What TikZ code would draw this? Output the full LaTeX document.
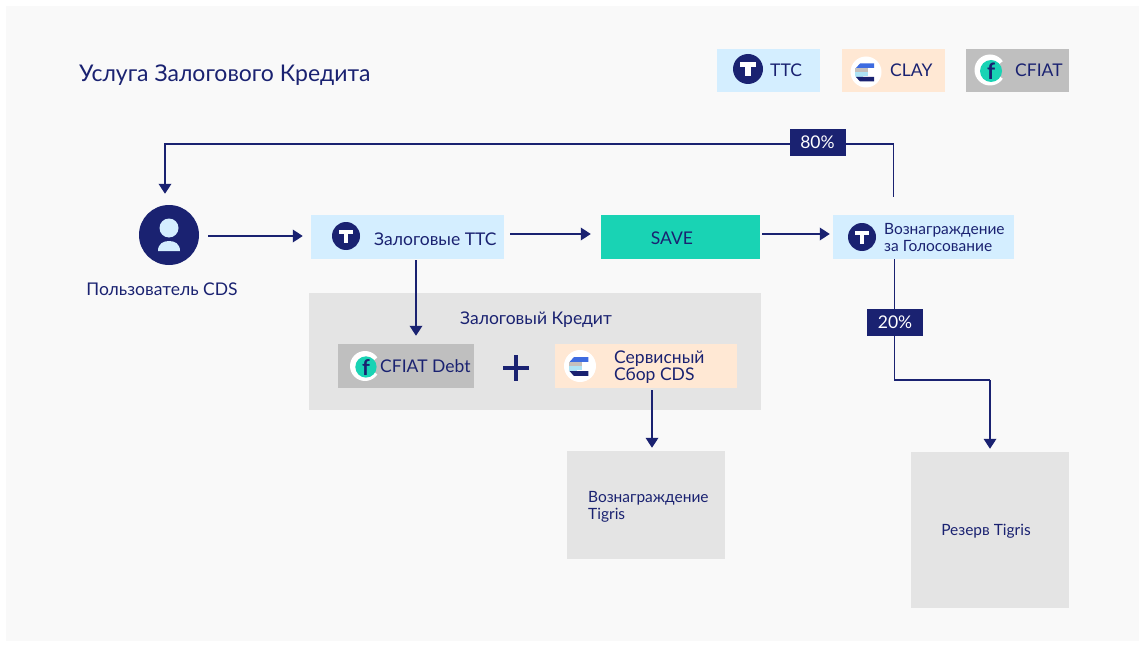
\documentclass[tikz,border=0pt]{standalone}
\usepackage{fontspec}
\setmainfont{Lato}
\usetikzlibrary{arrows.meta,calc}
\definecolor{navy}{HTML}{1A2271}
\definecolor{skyb}{HTML}{D4EEFF}
\definecolor{peach}{HTML}{FFE8D4}
\definecolor{greyb}{HTML}{BFBFBF}
\definecolor{tealb}{HTML}{19D3B4}
\definecolor{panel}{HTML}{E4E4E4}
\definecolor{page}{HTML}{F9F9F9}
\definecolor{stripeb}{HTML}{3D6BE0}
\definecolor{stripeg}{HTML}{C4BFBC}
\definecolor{stripel}{HTML}{AEE3F5}
\tikzset{
  x=1pt,y=-1pt,
  lbl/.style={text=navy,inner sep=0pt,font=\fontsize{17.5}{17}\selectfont,align=left},
  small/.style={text=navy,inner sep=0pt,font=\fontsize{15.5}{17}\selectfont,align=left},
  pct/.style={fill=navy,text=white,inner sep=0pt,minimum width=56pt,minimum height=27pt,font=\fontsize{17.5}{19}\selectfont},
  conn/.style={draw=navy,line width=1.9pt},
  arr/.style={conn,-{Triangle[length=10pt,width=12.5pt]}},
}
% centre x, centre y, radius
\newcommand\ttcicon[3]{%
  \begin{scope}[shift={(#1,#2)},scale=#3/15]
    \fill[navy] (0,0) circle (15);
    \fill[white] (-8,-6.5) rectangle (8,-2);
    \fill[white] (-2.6,-3) rectangle (2.6,7.5);
  \end{scope}}
\newcommand\clayicon[3]{%
  \begin{scope}[shift={(#1,#2)},scale=#3/15]
    \fill[white] (0,0) circle (15.5);
    \fill[stripeb] (-10,-4) -- (-6,-8.5) -- (8,-8.5) -- (8,-4) -- cycle;
    \fill[stripeg] (-11,-4) rectangle (2,0);
    \fill[stripel] (-11,0) rectangle (2,4);
    \fill[stripel] (-11,4) -- (-3,4) -- (-3,5) -- (-10,5) -- cycle;
    \fill[navy] (-10,5) -- (8,5) -- (8,9.5) -- (-6,9.5) -- cycle;
  \end{scope}}
\newcommand\cfiaticon[4]{%
  \begin{scope}[shift={(#1,#2)},scale=#3/15]
    \fill[white] (0,0) circle (15.5);
    \fill[#4] (6,-3) -- (18,-13) -- (18,13) -- (6,3) -- cycle;
    \fill[tealb] (1,1) circle (11);
  \end{scope}
  \pgfmathsetmacro\fsz{#3*1.5}%
  \node[text=navy,inner sep=0pt,font=\bfseries\fontsize{\fsz}{\fsz}\selectfont] at ($(#1,#2)+(#3*0.07,#3*0.07)$) {f};}
\begin{document}
\begin{tikzpicture}
\useasboundingbox (0,0) rectangle (1145,647);
\fill[white] (0,0) rectangle (1145,647);
\fill[page] (6,6) rectangle (1139,641);

\node[anchor=west,text=navy,inner sep=0pt,font=\fontsize{23}{25}\selectfont] (title) at (79,75) {Услуга Залогового Кредита};

% legend
\fill[skyb] (717,49) rectangle (820,92);
\fill[peach] (842,49) rectangle (945,92);
\fill[greyb] (966,49) rectangle (1069,92);
\ttcicon{748}{69}{15}
\clayicon{866}{72}{15}
\cfiaticon{990}{70}{15}{greyb}
\node[lbl,anchor=west] (lttc) at (770,70) {TTC};
\node[lbl,anchor=west] (lclay) at (890,70) {CLAY};
\node[lbl,anchor=west] (lcfiat) at (1015,70) {CFIAT};

% panel
\fill[panel] (309,293) rectangle (761,410);
\node[lbl,anchor=center] (ptitle) at (536,320) {Залоговый Кредит};

% user
\node[circle,fill=navy,minimum size=60pt,inner sep=0pt] (user) at (169,235) {};
\fill[skyb] (169,228) circle (9.5);
\fill[skyb] (158,251) .. controls (158,244) and (163,241) .. (169,241) .. controls (175,241) and (180,244) .. (180,251) -- cycle;
\node[lbl,anchor=center] (userl) at (162,289) {Пользователь CDS};

% boxes
\node[fill=skyb,minimum width=193pt,minimum height=44pt,inner sep=0pt] (zal) at (407.5,237) {};
\ttcicon{346}{236}{14}
\node[lbl,anchor=west] (zall) at (374,239) {Залоговые TTC};

\node[fill=tealb,minimum width=159pt,minimum height=44pt,inner sep=0pt] (save) at (680.5,237) {};
\node[lbl,anchor=center] (savel) at (672,238) {SAVE};

\node[fill=skyb,minimum width=181pt,minimum height=44pt,inner sep=0pt] (rew) at (923.5,237) {};
\ttcicon{862}{237}{14}
\node[small,anchor=west] (rewl) at (884,238) {Вознаграждение\\за Голосование};

\node[fill=greyb,minimum width=136pt,minimum height=44pt,inner sep=0pt] (debt) at (406,366) {};
\cfiaticon{365}{366}{14.5}{greyb}
\node[lbl,anchor=west] (debtl) at (380,366.5) {CFIAT Debt};

\fill[navy] (502.5,365.5) rectangle (528.5,369.5);
\fill[navy] (513.5,354.5) rectangle (517.5,380.5);

\node[fill=peach,minimum width=182pt,minimum height=44pt,inner sep=0pt] (serv) at (646,366) {};
\clayicon{580}{366}{15.5}
\node[lbl,anchor=west] (servl) at (614,367) {Сервисный\\Сбор CDS};

\node[fill=panel,minimum width=158pt,minimum height=108pt,inner sep=0pt] (tigr) at (646,505) {};
\node[small,anchor=west] (tigrl) at (588,506.5) {Вознаграждение\\Tigris};
\node[fill=panel,minimum width=158pt,minimum height=156pt,inner sep=0pt] (res) at (990,530) {};
\node[small,anchor=center] (resl) at (986,531.5) {Резерв Tigris};

% connectors
\coordinate (tl) at (165,144);
\coordinate (tr) at (893.5,144);
\coordinate (bl) at (894.5,380);
\coordinate (br) at (990,380);
\coordinate (ax) at (416,0);
\coordinate (sx) at (652,0);
\coordinate (y1) at (0,236);
\coordinate (y2) at (0,234);
\draw[arr,shorten <=9pt,shorten >=8pt] (user.east |- y1) -- (zal.west |- y1);
\draw[arr,shorten <=6pt,shorten >=10pt] (zal.east |- y2) -- (save.west |- y2);
\draw[arr,shorten <=2pt,shorten >=3pt] (save.east |- y2) -- (rew.west |- y2);
\draw[arr,shorten <=18pt,shorten >=11pt] (tr |- rew.north) -- (tr) -- (tl) -- (tl |- user.north);
\draw[conn] (bl |- rew.south) -- (bl) -- (br);
\draw[arr,shorten >=3pt] (br) -- (br |- res.north);
\draw[arr,shorten <=1pt,shorten >=8pt] (ax |- zal.south) -- (ax |- debt.north);
\draw[arr,shorten <=2pt,shorten >=3pt] (sx |- serv.south) -- (sx |- tigr.north);

\node[pct] (p80) at (817.5,142.5) {80\%};
\node[pct] (p20) at (895,322.5) {20\%};
\end{tikzpicture}
\end{document}
